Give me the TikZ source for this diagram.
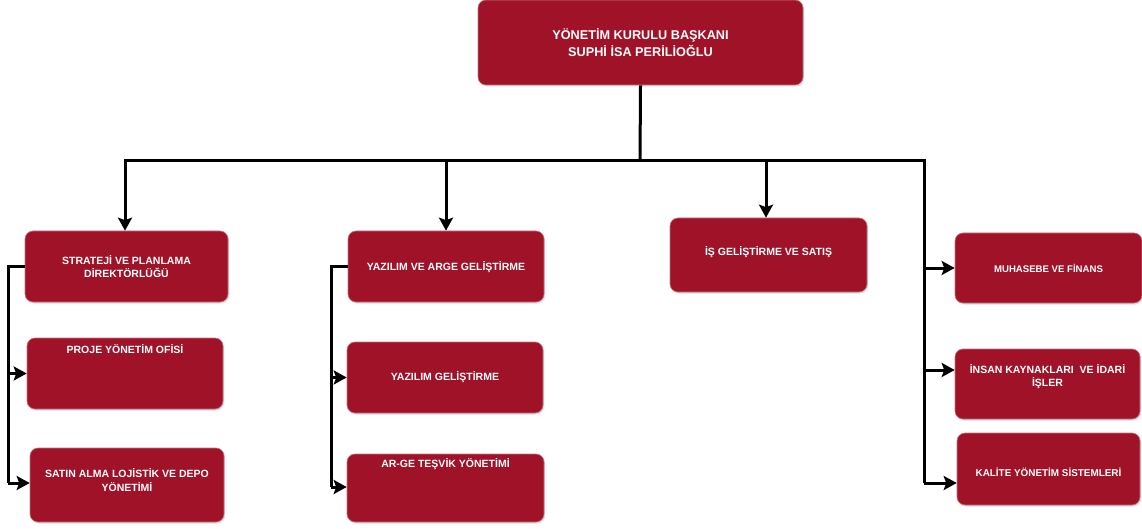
\documentclass[tikz,border=0pt]{standalone}
\usepackage{fontspec}
\setmainfont{Liberation Sans}
\usetikzlibrary{arrows.meta,shadows}
\definecolor{boxred}{RGB}{160,18,40}
\tikzset{
  box/.style={rectangle, rounded corners=8pt, fill=boxred, draw=boxred!60!white, line width=0.6pt,
     drop shadow={opacity=0.25, shadow xshift=1.2pt, shadow yshift=-1.5pt}, inner sep=0pt},
  lbl/.style={text=white, font=\bfseries\fontsize{10.5}{13.5}\selectfont, align=center, inner sep=0pt},
  toplbl/.style={text=white, font=\bfseries\fontsize{12.7}{17}\selectfont, align=center, inner sep=0pt},
  conn/.style={line width=3pt, draw=black, line join=miter},
  arr/.style={conn, -{Stealth[length=13pt,width=14pt,inset=2.5pt]}}
}
\begin{document}
\begin{tikzpicture}[x=1pt,y=-1pt]
\useasboundingbox (0,0) rectangle (1142,529);
% boxes
\node[box, minimum width=325pt, minimum height=85pt] (top) at (640.5,42.5) {};
\node[toplbl] (toptext) at (640.5,43) {YÖNETİM KURULU BAŞKANI\\SUPHİ İSA PERİLİOĞLU};

\node[box, minimum width=203pt, minimum height=71pt] (strat) at (126.5,266.5) {};
\node[lbl] (strattext) at (126.5,266.5) {STRATEJİ VE PLANLAMA\\DİREKTÖRLÜĞÜ};
\node[box, minimum width=196pt, minimum height=71pt] (pmo) at (125,373.5) {};
\node[lbl] (pmotext) at (125,349) {PROJE YÖNETİM OFİSİ};
\node[box, minimum width=194pt, minimum height=74pt] (satin) at (127,485) {};
\node[lbl] (satintext) at (127,480) {SATIN ALMA LOJİSTİK VE DEPO\\YÖNETİMİ};

\node[box, minimum width=196pt, minimum height=71pt] (yaz) at (446,266.5) {};
\node[lbl] (yaztext) at (446,267) {YAZILIM VE ARGE GELİŞTİRME};
\node[box, minimum width=196pt, minimum height=71pt] (yg) at (445,377.5) {};
\node[lbl] (ygtext) at (445,377) {YAZILIM GELİŞTİRME};
\node[box, minimum width=197pt, minimum height=68pt] (arge) at (445.5,488) {};
\node[lbl] (argetext) at (445.5,464) {AR-GE TEŞVİK YÖNETİMİ};

\node[box, minimum width=197pt, minimum height=74pt] (is) at (768.5,255) {};
\node[lbl] (istext) at (768.5,252) {İŞ GELİŞTİRME VE SATIŞ};

\node[box, minimum width=187pt, minimum height=70pt] (muh) at (1048.5,268) {};
\node[lbl, font=\bfseries\fontsize{9.6}{13}\selectfont] (muhtext) at (1048.5,268) {MUHASEBE VE FİNANS};
\node[box, minimum width=185pt, minimum height=70pt] (ik) at (1047.5,384) {};
\node[lbl] (iktext) at (1047.5,376.5) {İNSAN KAYNAKLARI\ \ VE İDARİ\\İŞLER};
\node[box, minimum width=183pt, minimum height=72pt] (kal) at (1048.5,469) {};
\node[lbl, font=\bfseries\fontsize{9.9}{13}\selectfont] (kaltext) at (1048.5,472) {KALİTE YÖNETİM SİSTEMLERİ};

% connectors
\coordinate (j) at (640,161);
\coordinate (rc) at (924,483);
\coordinate (lc) at (8,483);
\coordinate (mc) at (331,487);
\draw[conn] (top.south) -- (j);
\draw[arr] (j) -| ([xshift=-1.5pt]strat.north);
\draw[arr] (j) -| (yaz.north);
\draw[arr] (j) -| ([xshift=-2.5pt]is.north);
\draw[conn] (j) -| (rc);
\draw[arr] (rc |- muh.west) -- (muh.west);
\draw[arr] (rc |- ik.west) ++(0,-14) -- ([yshift=14pt]ik.west);
\draw[arr] (rc) -- (rc -| kal.west);

\draw[conn] (strat.west) -| (lc);
\draw[arr] (lc |- pmo.west) -- (pmo.west);
\draw[arr] (lc) -- (lc -| satin.west);

\draw[conn] (yaz.west) -| (mc);
\draw[arr] (mc |- yg.west) -- (yg.west);
\draw[arr] (mc) -- (mc -| arge.west);
\end{tikzpicture}
\end{document}
